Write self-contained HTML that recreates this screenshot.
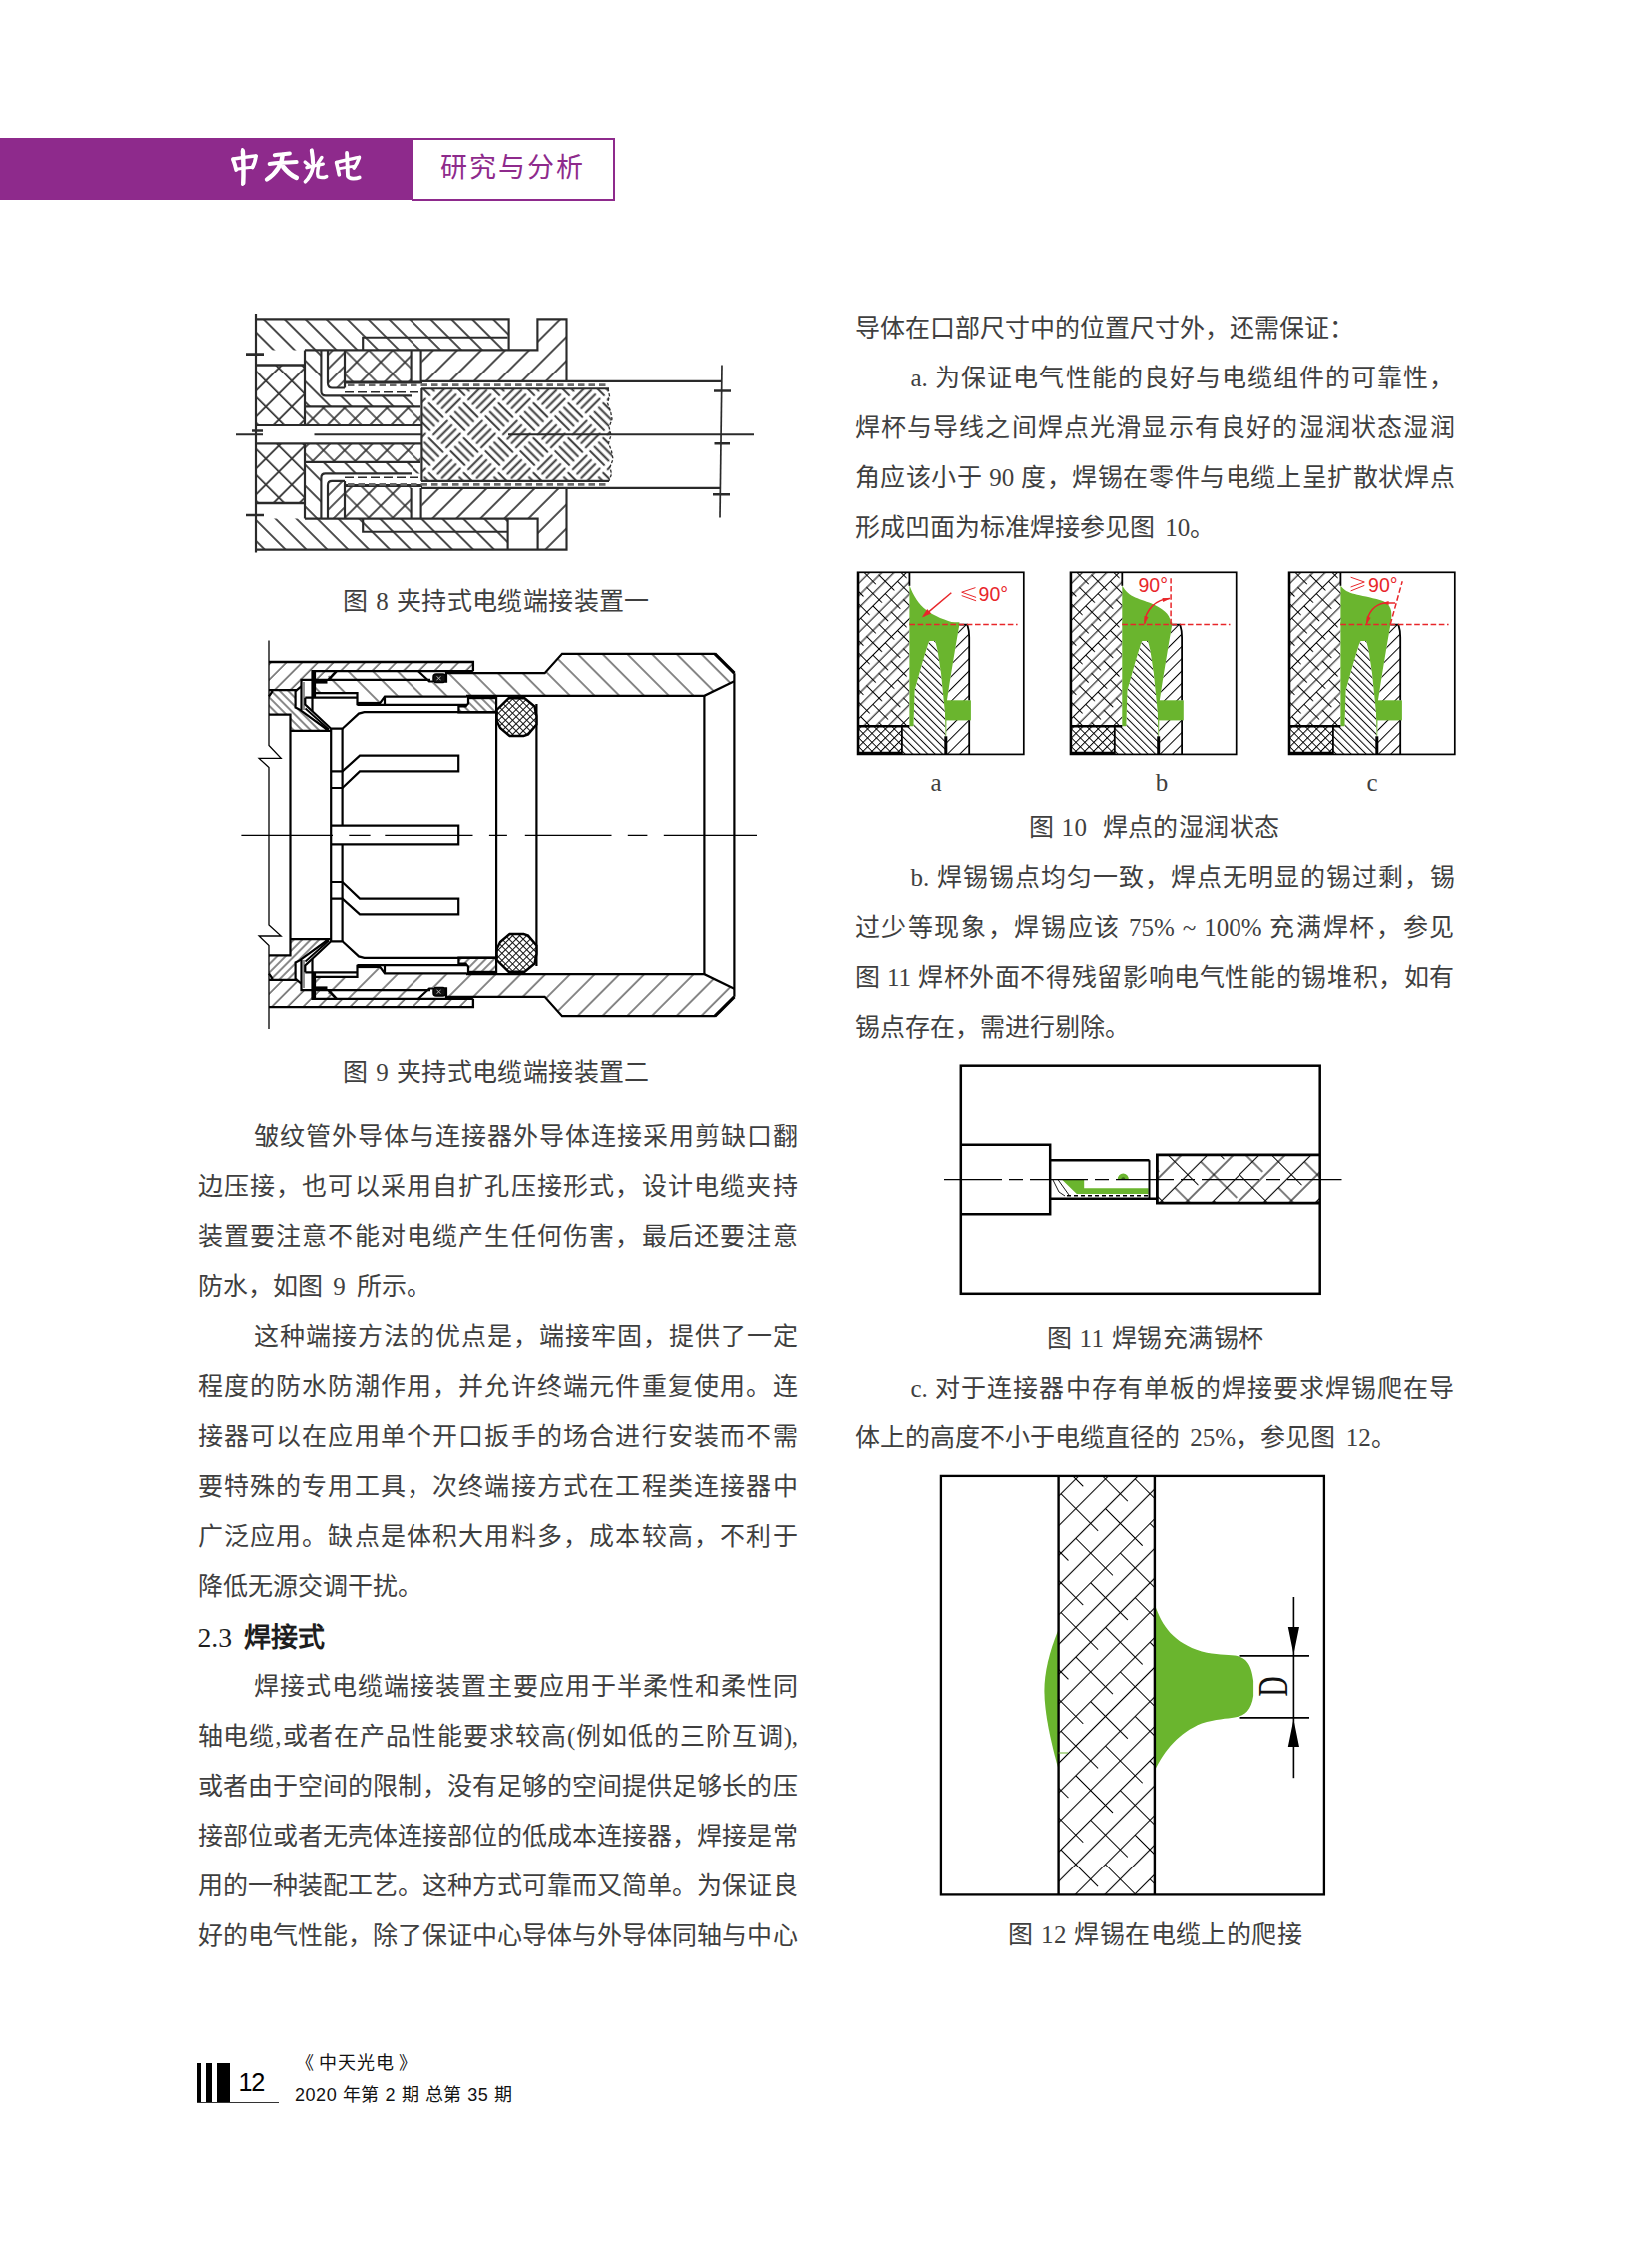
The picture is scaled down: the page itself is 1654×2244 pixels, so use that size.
<!DOCTYPE html>
<html lang="zh-CN"><head><meta charset="utf-8"><title>中天光电 研究与分析</title>
<style>
html,body{margin:0;padding:0;background:#fff}
#pg{position:relative;width:1654px;height:2244px;overflow:hidden;background:#fff;font-family:"Liberation Serif",serif;color:#1c1c1c}
.l{color:#3f3f3f}
.l.h{color:#1e1e1e}
.l{position:absolute;white-space:nowrap;font-size:25px;line-height:50px;height:50px;font-family:"Liberation Serif",serif}
.j{text-align:justify;text-align-last:justify}
.k{letter-spacing:-0.4px}
.c{text-align:center;word-spacing:1px;letter-spacing:0.4px}
.n{word-spacing:4.5px}
.h{font-weight:bold;font-size:27px;word-spacing:5.5px}
.hn{font-weight:normal;font-size:27.7px}
svg{position:absolute;left:0;top:0;overflow:visible}
.sans{font-family:"Liberation Sans",sans-serif}

</style></head>
<body>
<div id="pg">
<div style="position:absolute;left:0;top:137.5px;width:414px;height:62.5px;background:#8e2a8c"></div>
<div style="position:absolute;left:412px;top:137.5px;width:200px;height:59px;border:2px solid #8e2a8c;background:#fff"></div>
<div class="sans" style="position:absolute;left:441px;top:149.3px;font-size:27px;line-height:38px;letter-spacing:1.9px;color:#8e2a8c;white-space:nowrap">研究与分析</div>
<svg width="1654" height="2244" viewBox="0 0 1654 2244" style="z-index:2">
<g transform="translate(220,138) scale(0.09685)" fill="none" stroke="#fff" stroke-linecap="round" stroke-linejoin="round">
<!-- 中 -->
<path d="M236,135C242,230 246,350 240,465" stroke-width="46"/>
<path d="M236,130L232,118M240,465L232,480" stroke-width="30"/>
<path d="M135,222C150,260 160,295 168,330" stroke-width="40"/>
<path d="M135,218C220,205 300,190 372,186" stroke-width="38"/>
<path d="M372,188C365,235 350,280 335,305" stroke-width="38"/>
<path d="M172,322C230,312 290,305 338,302" stroke-width="32"/>
<!-- 天 -->
<path d="M565,178C620,170 670,165 722,160" stroke-width="40"/>
<path d="M512,268C600,258 700,252 792,248" stroke-width="40"/>
<path d="M648,175C640,260 610,345 485,428" stroke-width="44"/>
<path d="M655,300C690,345 730,385 790,410" stroke-width="50"/>
<!-- 光 -->
<path d="M948,128C955,170 960,215 962,260" stroke-width="42"/>
<path d="M880,250L922,284" stroke-width="36"/>
<path d="M1052,202L1012,262" stroke-width="36"/>
<path d="M898,306C950,292 1010,280 1066,270" stroke-width="36"/>
<path d="M962,300C950,360 925,410 882,452" stroke-width="38"/>
<path d="M1018,292C1008,340 1000,385 1020,402C1045,412 1075,410 1102,398" stroke-width="36"/>
<!-- 电 -->
<path d="M1204,255C1215,300 1225,340 1232,380" stroke-width="38"/>
<path d="M1204,252C1290,232 1370,212 1440,200" stroke-width="36"/>
<path d="M1440,202C1425,245 1405,285 1385,312" stroke-width="36"/>
<path d="M1238,316C1295,305 1350,296 1400,290" stroke-width="30"/>
<path d="M1312,155C1318,240 1318,330 1322,395C1340,425 1400,425 1442,408" stroke-width="40"/>
</g>
</svg>

<svg width="1654" height="2244" viewBox="0 0 1654 2244" style="z-index:1">
<defs>
<filter id="bl8" x="-2%" y="-2%" width="104%" height="104%"><feGaussianBlur stdDeviation="0.55"/></filter>
<pattern id="h8a" patternUnits="userSpaceOnUse" width="14.8" height="10" patternTransform="translate(262,319) rotate(-45)"><path d="M1,-1V11" stroke="#333" stroke-width="1.75"/></pattern>
<pattern id="h8b" patternUnits="userSpaceOnUse" width="17" height="10" patternTransform="translate(425,382) rotate(45)"><path d="M1,-1V11" stroke="#333" stroke-width="1.75"/></pattern>
<pattern id="h8c" patternUnits="userSpaceOnUse" width="10" height="10" patternTransform="translate(330,352) rotate(45)"><path d="M1,-1V11" stroke="#333" stroke-width="1.65"/></pattern>
<pattern id="x8a" patternUnits="userSpaceOnUse" width="18.4" height="18.4" patternTransform="translate(266,380) rotate(45)"><path d="M1,-1V20M-1,1H20" stroke="#333" stroke-width="1.75" fill="none"/></pattern>
<pattern id="x8b" patternUnits="userSpaceOnUse" width="15" height="15" patternTransform="translate(313,418) rotate(45)"><path d="M1,-1V16M-1,1H16" stroke="#333" stroke-width="1.65" fill="none"/></pattern>
<pattern id="x8c" patternUnits="userSpaceOnUse" width="17" height="17" patternTransform="translate(357,361) rotate(45)"><path d="M1,-1V18M-1,1H18" stroke="#333" stroke-width="1.65" fill="none"/></pattern>
<pattern id="w8" patternUnits="userSpaceOnUse" width="49.4" height="49.4" patternTransform="translate(430,400) rotate(-45)">
<path d="M2.5,3.1H22.2M27.8,2.5V22.2M3.1,27.2V46.9M27.2,27.8H46.9M2.5,9.3H22.2M34.0,2.5V22.2M9.3,27.2V46.9M27.2,34.0H46.9M2.5,15.4H22.2M40.1,2.5V22.2M15.4,27.2V46.9M27.2,40.1H46.9M2.5,21.6H22.2M46.3,2.5V22.2M21.6,27.2V46.9M27.2,46.3H46.9" stroke="#383838" stroke-width="2" fill="none" stroke-linecap="round"/></pattern>
</defs>
<g filter="url(#bl8)" fill="none" stroke="#2c2c2c" stroke-width="2.15">
<!-- hatched fills -->
<path d="M256,319.3H509.6V350.4H256Z" fill="url(#h8a)" stroke="none"/>
<path d="M256,519.6H508.6V550.6H256Z" fill="url(#h8a)" stroke="none"/>
<path d="M538.4,319.3H567.5V381.9H422.4V350.4H538.4Z" fill="url(#h8b)" stroke="none"/>
<path d="M422.4,489.2H567.5V550.6H538.6V519.6H422.4Z" fill="url(#h8b)" stroke="none"/>
<path d="M305,350.4H321.4V396.4H421V407.3H305Z" fill="url(#h8a)" stroke="none"/>
<path d="M305,519.6H321.4V474.4H421V463.3H305Z" fill="url(#h8a)" stroke="none"/>
<rect x="328" y="350.4" width="17" height="38" fill="url(#h8c)" stroke="none"/>
<rect x="328" y="482" width="17" height="37.6" fill="url(#h8c)" stroke="none"/>
<rect x="256" y="365.5" width="49" height="60.5" fill="url(#x8a)" stroke="none"/>
<rect x="256" y="444.4" width="49" height="60.5" fill="url(#x8a)" stroke="none"/>
<rect x="305" y="407.3" width="116.3" height="18.7" fill="url(#x8b)" stroke="none"/>
<rect x="305" y="444.4" width="116.3" height="18.5" fill="url(#x8b)" stroke="none"/>
<rect x="345" y="350.4" width="66.6" height="32" fill="url(#x8c)" stroke="none"/>
<rect x="345" y="487" width="66.6" height="32.6" fill="url(#x8c)" stroke="none"/>
<path id="w8p" d="M422.4,389.2H609L610.5,397 608.5,404 611.5,412 613,420 610,428 612,436 609.5,444 612.5,452 614,460 611,468 612.5,475 610,481.8H422.4Z" fill="url(#w8)" stroke="none"/>
<path d="M609,389.2L610.5,397 608.5,404 611.5,412 613,420 610,428 612,436 609.5,444 612.5,452 614,460 611,468 612.5,475 610,481.8" stroke-width="1.3" stroke-dasharray="3 2"/>
<!-- outline -->
<path d="M256,314V553.5"/>
<path d="M256,319.3H509.6V350.4"/>
<path d="M305,350.4H538.4V319.3H567.5V381.9M567.5,489V550.6H256"/>
<path d="M363.2,350.4V337.7H508.6"/>
<path d="M305,519.6H538.6V550.6M508.6,519.6V550.6M363.2,519.6V532.7H508.6"/>
<path d="M305,350.4V426M305,444.4V519.6"/>
<path d="M256,365.5H305M256,504H305" stroke-width="2.4"/>
<path d="M256,426H422.4M256,444.4H422.4"/>
<path d="M422.4,389V482"/>
<path d="M305,407.3H421M305,462.9H421"/>
<path d="M321.4,350.4V392q0,4.4 4.4,4.4H412M328,350.4V384q0,4.5 4.5,4.5H345"/>
<path d="M321.4,519.6V478.5q0,-4.2 4.2,-4.2H412M328,519.6V486q0,-4.2 4.2,-4.2H345"/>
<path d="M345,350.4V388.5M345,519.6V482"/>
<path d="M411.6,350.4V382M421.6,350.4V382M411.6,519.6V489M421.6,519.6V489"/>
<path d="M345,383H423" stroke-width="2.8"/>
<path d="M345,486.5H423" stroke-width="2.8"/>
<!-- cable outer conductor + leaders -->
<path d="M422,381.9H723M422,389.2H610M422,481.8H610M422,488.8H721.5"/>
<path d="M348,385.6H610M348,485.4H610" stroke-width="2.6" stroke-dasharray="6.5 4" stroke="#6a6a6a"/>
<path d="M345,392.8H420M345,478.2H420" stroke-width="1.6" stroke-dasharray="9 4"/>
<!-- centre line -->
<path d="M236,435.2H263M314.5,435.2H422M509,435.2H755"/>
<!-- dimension line + ticks -->
<path d="M723,365.5L721,518.5" stroke-width="1.7"/>
<path d="M715,391.5H732M715.5,444.3H731M714,495.2H731M246,354.6H264M246,516H264M252,431.5H263" stroke-width="2.6"/>
</g>
</svg>

<svg width="1654" height="2244" viewBox="0 0 1654 2244" style="z-index:1">
<defs>
<pattern id="h9a" patternUnits="userSpaceOnUse" width="11.1" height="10" patternTransform="translate(270,663) rotate(45)"><path d="M1,-1V11" stroke="#111" stroke-width="1"/></pattern>
<pattern id="h9c" patternUnits="userSpaceOnUse" width="17.5" height="10" patternTransform="translate(322,672) rotate(-45)"><path d="M1,-1V11" stroke="#111" stroke-width="1"/></pattern>
<pattern id="h9d" patternUnits="userSpaceOnUse" width="6" height="10" patternTransform="translate(270,692) rotate(-45)"><path d="M1,-1V11" stroke="#111" stroke-width="1"/></pattern>
<pattern id="x9o" patternUnits="userSpaceOnUse" width="5" height="5" patternTransform="translate(517,717) rotate(45)"><path d="M0.5,-1V6M-1,0.5H6" stroke="#111" stroke-width="1" fill="none"/></pattern>
<g id="f9h" fill="none" stroke="#000" stroke-width="2.2" stroke-linejoin="miter">
 <!-- hatch fills (flip with mirror) -->
 <path d="M333,672.2H419L430,680.9H325Z" fill="url(#h9c)" stroke="none"/>
 <path d="M315.5,680.9H431V683.5H447V674.2H545.6L563,654.8H716L735.4,674.2V682.3L705.4,696.8H385L379.5,704.6H357.5V694.1H315.5Z" fill="url(#h9c)" stroke="none"/>
 <path d="M269,691.1H296.9L295.6,692.4V708.5L299.8,710.6L327.8,731H290.5V715.7H269Z" fill="url(#h9d)" stroke="none"/>
 <path d="M469,697.8H497.1V713.3H459.4V707.5H466.2L469,704.6Z" fill="url(#h9d)" stroke="none"/>
 <!-- sleeve B -->
 <path d="M312.5,712V672.2H473.9" />
 <path d="M336.7,672.2L328.6,680.9" stroke-width="2.6"/>
 <path d="M314.5,682.8H327.5" stroke-width="3.6"/>
 <path d="M314.3,673V698" stroke-width="3.6"/>
 <path d="M419,672.2L430,682.5H434" />
 <rect x="434" y="675" width="12.5" height="8.6" rx="3" fill="#111" stroke="#000" stroke-width="1.5"/>
 <path d="M437.5,677.5l2,1.5l2,-1.5m-4,3.5l2,-1.5l2,1.5" stroke="#ddd" stroke-width="0.8"/>
 <path d="M447,683.8V674.2H545.6L563,654.8H716L735.4,674.2"/>
 <path d="M716,654.8L735.4,674.2" stroke-width="3.2"/>
 <!-- body C top/bottom -->
 <path d="M301.5,711V680.9H431"/>
 <path d="M304,683V711" stroke="#777" stroke-width="1.6"/>
 <path d="M315.5,694.1H357.5V705.2H379.5L385,697.7H467.6"/>
 <path d="M357.5,704.6H380" stroke-width="3.4"/>
 <path d="M385,698.2V705.9"/>
 <path d="M357.5,705.9H466.2V707.5H459.4V713.3H497.1"/>
 <path d="M466.2,707.5L469,704.6V697.8"/>
 <path d="M467.6,697.7H497.1" />
 <path d="M467,696.8H705.4L735.4,682.3" />
 <path d="M469,698.6H497" stroke-width="3.2"/>
 <!-- cone -->
 <path d="M305.3,698.7H357.5M305.3,698.7V705.5L331.2,729.7H342.6L359,714.6L364.5,713.1H497.1"/>
 <path d="M305.5,709.5L329,730.5" stroke-width="1.8"/>
 <!-- back nut D outline -->
 <path d="M269,691.1H296.9L301.5,687.3M296.9,691.1L295.6,692.4V708.5L299.8,710.6L328.5,731.5M269,697.5L272.7,692.2M269,715.7H290.5V836M290.5,731.8H331.2"/>
 <!-- collet neck + fingers -->
 <path d="M331.2,729.7V836M342.6,729.7V827"/>
 <path d="M331.2,772.4H342.6L360,756.7H459.2V772.4H360L342.6,789H331.2"/>
 <path d="M331.2,826.7H459.2V836"/>
 <!-- o-ring -->
 <path d="M497.1,696.8V836M537.4,705V836M705.4,696.8V836M735.4,674.2V836"/>
 <path d="M509.5,699.3H525.5L535.5,707.5L537.4,717V725.5L529,735.5L524.5,737H510.5L501,729L497.6,722V711Z" fill="#fff" stroke="none"/>
 <path d="M509.5,699.3H525.5L535.5,707.5L537.4,717V725.5L529,735.5L524.5,737H510.5L501,729L497.6,722V711Z" fill="url(#x9o)" stroke-width="2.4"/>
</g>
</defs>
<!-- outer shell hatch, same direction both halves -->
<path d="M269,663H473.9V672.2H336.7L328.6,680.9H301.5V687.3L296.9,691.1H269Z" fill="url(#h9a)"/>
<path d="M269,1008.2H473.9V999.8H336.7L328.6,991.1H301.5V984.7L296.9,980.9H269Z" fill="url(#h9a)"/>
<use href="#f9h"/>
<use href="#f9h" transform="matrix(1,0,0,-1,0,1672)"/>
<g fill="none" stroke="#000">
<path d="M269,663H473.9V672.2M269,1008.2H473.9V999.8" stroke-width="2.3"/>
<path d="M269,641.5V746.5L281.2,759.4H259.1L269,768.5V926L281.2,937H259.1L269,946.5V1030" stroke-width="1.3"/>
<path d="M241.4,836.4H758" stroke-width="1.2" stroke-dasharray="91.6 16.3 21.3 14.7 88.2 16.4 18 17.9 86.7 16.3 19.6 16.4 94"/>
</g>
</svg>

<svg width="1654" height="2244" viewBox="0 0 1654 2244" style="z-index:1">
<defs>
<pattern id="x10a" patternUnits="userSpaceOnUse" width="34.8" height="17.4" patternTransform="translate(3,-4) rotate(45)">
<path d="M0.5,0V17.4M9.2,0V17.4M17.9,0V17.4M26.6,0V17.4" stroke="#000" stroke-width="1" fill="none"/>
<path d="M0,0.5H22M17.4,9.2H34.8M0,9.2H4.6" stroke="#000" stroke-width="1" fill="none"/>
</pattern>
<pattern id="x10b" patternUnits="userSpaceOnUse" width="6.3" height="6.3" patternTransform="translate(1,156) rotate(45)"><path d="M0.5,-1V8M-1,0.5H8" stroke="#000" stroke-width="1" fill="none"/></pattern>
<pattern id="h10c" patternUnits="userSpaceOnUse" width="5.3" height="10" patternTransform="translate(46,181) rotate(-45)"><path d="M0.5,-1V11" stroke="#000" stroke-width="1"/></pattern>
<pattern id="h10w" patternUnits="userSpaceOnUse" width="8.7" height="10" patternTransform="translate(90,181) rotate(45)"><path d="M0.5,-1V11" stroke="#000" stroke-width="1"/></pattern>
<g id="p10" fill="none" stroke="#000" stroke-width="1.6">
 <rect x="0" y="0" width="51.8" height="153.6" fill="url(#x10a)" stroke="none"/>
 <rect x="0" y="154.5" width="44.3" height="27" fill="url(#x10b)" stroke="none"/>
 <path d="M44.3,182V154.5H55.8L57,118L65,89.5L70.7,71L71.9,68.8H77.6L79.9,78L83.4,101L85.7,124L87.4,141L88,164.2V182Z" fill="url(#h10c)" stroke="none"/>
 <path d="M101.8,52.4H109.8Q111.6,58 111.6,65.3V182H88.6V164.2L89.1,129.7L92.6,106.7L98.3,72.2Z" fill="url(#h10w)" stroke="none"/>
 <!-- solder body below rim -->
 <path d="M51.8,50V154H55.8L57,118L65,89.5L70.7,71L71.9,68.8H77.6L79.9,78L83.4,101L85.7,124L87.4,141L88,165.4L88.6,164.2L89.1,129.7L92.6,106.7L98.3,72.2L101.8,52.1V50Z" fill="#6ab52e" stroke="none"/>
 <rect x="88.3" y="128" width="25" height="20.1" fill="#6ab52e" stroke="none"/>
 <rect x="0" y="0" width="166.2" height="182.1" stroke-width="1.7"/>
 <path d="M51.8,0V13.5" stroke-width="1.8"/>
 <path d="M0,154H51.8" stroke-width="2.6"/>
 <path d="M0,180.9H44.3" stroke-width="3"/>
 <path d="M44.3,154V182" stroke-width="1.8"/>
 <path d="M0.6,0V182" stroke-width="2.2"/>
 <path d="M101.8,52.4H109.8Q111.6,58 111.6,65.3V128M111.6,148V182" stroke-width="1.8"/>
 <path d="M88.2,164V182" stroke-width="3"/>
</g>
<path id="ah10" d="M0,0L7.5,-1.9L7.5,1.9Z"/>
</defs>
<!-- panel a -->
<g transform="translate(858.6,573.3)">
 <path d="M51.8,13C60,35 72,44 101.8,52.1V53H51.8Z" fill="#6ab52e"/>
 <use href="#p10"/>
 <g stroke="#e8262a" fill="none" stroke-width="1.3">
  <path d="M51.8,52.1H160" stroke-dasharray="5.6 2.6" stroke-width="1.5"/>
  <path d="M93.7,20.5L66,43.8" stroke-width="1.5"/>
  <path d="M64.2,45.3L73.5,41.3L69.6,36.7Z" fill="#e8262a" stroke="none"/>
  <path d="M117.9,15.3L104.1,19.9L118.5,25.1M104.1,23.3L118.5,28.5" stroke-width="1"/>
 </g>
 <text x="121" y="28.5" font-family="Liberation Sans, sans-serif" font-size="19.5" fill="#e8262a">90°</text>
</g>
<!-- panel b -->
<g transform="translate(1071.5,573.3)">
 <path d="M51.8,13C58,26 70,26 84,32.5C96,38.5 100.6,44 100.6,52.1L101.8,53H51.8Z" fill="#6ab52e"/>
 <use href="#p10"/>
 <g stroke="#e8262a" fill="none" stroke-width="1.5">
  <path d="M51.8,52.1H160" stroke-dasharray="5.6 2.6"/>
  <path d="M100.6,52.1V6" stroke-dasharray="5.6 2.6"/>
  <path d="M99.5,26.2A26,26 0 0 0 74.3,51.5"/>
  <path d="M100,26.1L92,25.6L92.7,29.8Z M74.3,52L73.9,43.8L78,44.8Z" fill="#e8262a" stroke="none"/>
 </g>
 <text x="68" y="19.3" font-family="Liberation Sans, sans-serif" font-size="19.5" fill="#e8262a">90°</text>
</g>
<!-- panel c -->
<g transform="translate(1290.6,573.3)">
 <path d="M51.8,13C58,23 70,21.5 92,28C102,31 104.5,38 101.8,52.1V53H51.8Z" fill="#6ab52e"/>
 <use href="#p10"/>
 <g stroke="#e8262a" fill="none" stroke-width="1.5">
  <path d="M51.8,52.1H160" stroke-dasharray="5.6 2.6"/>
  <path d="M101.6,52.1L113.6,9" stroke-dasharray="5.6 2.6"/>
  <path d="M106.5,30.8H96C86,32 79,40 78,51.5"/>
  <path d="M93.5,30.6L100,28.6L100,32.8Z M78,52L78.2,44L82,45.4Z" fill="#e8262a" stroke="none"/>
  <path d="M62,4.9L75.7,9.7L62,14.7M75.7,13.1L62,18.6" stroke-width="1"/>
 </g>
 <text x="79.5" y="19.3" font-family="Liberation Sans, sans-serif" font-size="19.5" fill="#e8262a">90°</text>
</g>
</svg>

<svg width="1654" height="2244" viewBox="0 0 1654 2244" style="z-index:1">
<defs>
<pattern id="x11" patternUnits="userSpaceOnUse" width="73.6" height="36.8" patternTransform="translate(1163,1150) rotate(45)">
<path d="M0.5,0V36.8M18.9,0V36.8M37.3,0V36.8M55.7,0V36.8" stroke="#000" stroke-width="1.1" fill="none"/>
<path d="M0,0.5H52M36.8,18.9H73.6M0,18.9H15" stroke="#000" stroke-width="1.1" fill="none"/>
</pattern>
</defs>
<g fill="none" stroke="#000" stroke-width="2.5">
<rect x="1158.4" y="1156.8" width="163.3" height="48.4" fill="url(#x11)" stroke="none"/>
<path d="M1062.9,1181.6H1085.2V1190.3H1149.7V1196H1077.8Z M1118.7,1181.6A5.6,6 0 0 1 1129.9,1181.6Z" fill="#6ab52e" stroke="none"/>
<path d="M1122.2,1181.6A2.1,2.4 0 0 1 1126.4,1181.6Z" fill="#3a6a1a" stroke="none"/>
<rect x="961.8" y="1066.7" width="359.9" height="229.1"/>
<path d="M961.8,1146.8H1051.2V1216.3H961.8"/>
<path d="M1051.2,1162.2H1150.5M1051.2,1200.7H1158.4"/>
<path d="M1150.5,1162.2V1200.7" stroke-width="2"/>
<path d="M1321.7,1156.8H1158.4V1205.2H1321.7" stroke-width="2.8"/>
<path d="M1068,1197.8H1149" stroke-width="1.4" stroke-dasharray="4 3"/>
<path d="M1054,1182L1060,1194L1066,1198M1059,1181.6L1070,1197" stroke-width="0.9"/>
<path d="M945,1181.6H1343.5" stroke-width="1.1" stroke-dasharray="58 7 14 7"/>
</g>
</svg>

<svg width="1654" height="2244" viewBox="0 0 1654 2244" style="z-index:1">
<defs>
<pattern id="x12" patternUnits="userSpaceOnUse" width="84" height="42" patternTransform="translate(1062,1495) rotate(45)">
<path d="M0.5,0V42M21.5,0V42M42.5,0V42M63.5,0V42" stroke="#000" stroke-width="1.1" fill="none"/>
<path d="M0,0.5H53M42,21.5H84M0,21.5H11" stroke="#000" stroke-width="1.1" fill="none"/>
</pattern>
</defs>
<g fill="none" stroke="#000" stroke-width="2.3">
<rect x="1059.6" y="1478" width="96.3" height="419.4" fill="url(#x12)" stroke="none"/>
<path d="M1155.9,1606.5C1163,1628 1175,1645 1203,1653.5C1217,1657 1228,1656.5 1236,1657.5C1246,1659 1253,1664 1255.1,1683V1698C1253,1712 1247,1718 1236,1719.5C1228,1721 1217,1721 1203,1725.500C1180,1735 1166,1752 1155.900,1772.800Z" fill="#6ab52e" stroke="none"/>
<path d="M1059.6,1631.3C1050,1655 1045.4,1675 1045.4,1693C1045.4,1715 1052,1745 1059.6,1771.5Z" fill="#6ab52e" stroke="none"/>
<rect x="941.9" y="1477.9" width="384" height="419.5"/>
<path d="M1059.6,1478V1897.4M1155.9,1478V1897.4" stroke-width="2.4"/>
<path d="M1241.5,1657.9H1311M1241.5,1719.9H1311" stroke-width="1.8"/>
<path d="M1295.4,1599V1780.2" stroke-width="1.6"/>
<path d="M1295.4,1656.5L1289.800,1629H1301Z M1295.4,1721.300L1289.800,1749H1301Z" fill="#000" stroke="none"/>
<path d="M1059.6,1755H1069" stroke="#6ab52e" stroke-width="1"/>
</g>
<text transform="translate(1288.7,1698.6) rotate(-90) scale(0.66,1)" font-family="Liberation Serif, serif" font-size="42" fill="#111">D</text>
</svg>

<div class="l j" style="left:253.5px;top:1113.8px;width:545.0px">皱纹管外导体与连接器外导体连接采用剪缺口翻</div>
<div class="l j" style="left:197.5px;top:1163.8px;width:601px">边压接，也可以采用自扩孔压接形式，设计电缆夹持</div>
<div class="l j" style="left:197.5px;top:1213.8px;width:601px">装置要注意不能对电缆产生任何伤害，最后还要注意</div>
<div class="l n" style="left:197.5px;top:1263.8px">防水，如图 9 所示。</div>
<div class="l j" style="left:253.5px;top:1313.8px;width:545.0px">这种端接方法的优点是，端接牢固，提供了一定</div>
<div class="l j" style="left:197.5px;top:1363.8px;width:601px">程度的防水防潮作用，并允许终端元件重复使用。连</div>
<div class="l j" style="left:197.5px;top:1413.8px;width:601px">接器可以在应用单个开口扳手的场合进行安装而不需</div>
<div class="l j" style="left:197.5px;top:1463.8px;width:601px">要特殊的专用工具，次终端接方式在工程类连接器中</div>
<div class="l j" style="left:197.5px;top:1513.8px;width:601px">广泛应用。缺点是体积大用料多，成本较高，不利于</div>
<div class="l n" style="left:197.5px;top:1563.8px">降低无源交调干扰。</div>
<div class="l j" style="left:253.5px;top:1663.8px;width:545.0px">焊接式电缆端接装置主要应用于半柔性和柔性同</div>
<div class="l j k" style="left:197.5px;top:1713.8px;width:601px">轴电缆,或者在产品性能要求较高(例如低的三阶互调),</div>
<div class="l j" style="left:197.5px;top:1763.8px;width:601px">或者由于空间的限制，没有足够的空间提供足够长的压</div>
<div class="l j" style="left:197.5px;top:1813.8px;width:601px">接部位或者无壳体连接部位的低成本连接器，焊接是常</div>
<div class="l j" style="left:197.5px;top:1863.8px;width:601px">用的一种装配工艺。这种方式可靠而又简单。为保证良</div>
<div class="l j" style="left:197.5px;top:1913.8px;width:601px">好的电气性能，除了保证中心导体与外导体同轴与中心</div>
<div class="l n" style="left:855.5px;top:303.8px">导体在口部尺寸中的位置尺寸外，还需保证：</div>
<div class="l j" style="left:911.5px;top:353.8px;width:545.0px">a. 为保证电气性能的良好与电缆组件的可靠性，</div>
<div class="l j" style="left:855.5px;top:403.8px;width:601px">焊杯与导线之间焊点光滑显示有良好的湿润状态湿润</div>
<div class="l j" style="left:855.5px;top:453.8px;width:601px">角应该小于 90 度，焊锡在零件与电缆上呈扩散状焊点</div>
<div class="l n" style="left:855.5px;top:503.8px">形成凹面为标准焊接参见图 10。</div>
<div class="l j" style="left:911.5px;top:853.8px;width:545.0px">b. 焊锡锡点均匀一致，焊点无明显的锡过剩，锡</div>
<div class="l j" style="left:855.5px;top:903.8px;width:601px">过少等现象，焊锡应该 75% ~ 100% 充满焊杯，参见</div>
<div class="l j" style="left:855.5px;top:953.8px;width:601px">图 11 焊杯外面不得残留影响电气性能的锡堆积，如有</div>
<div class="l n" style="left:855.5px;top:1003.8px">锡点存在，需进行剔除。</div>
<div class="l j" style="left:911.5px;top:1365.8px;width:545.0px">c. 对于连接器中存有单板的焊接要求焊锡爬在导</div>
<div class="l n" style="left:855.5px;top:1414.8px">体上的高度不小于电缆直径的 25%，参见图 12。</div>
<div class="l c" style="left:197px;top:577.8px;width:600px">图 8 夹持式电缆端接装置一</div>
<div class="l c" style="left:197px;top:1048.8px;width:600px">图 9 夹持式电缆端接装置二</div>
<div class="l c" style="left:855.5px;top:803.8px;width:600px">图 10&nbsp; 焊点的湿润状态</div>
<div class="l c" style="left:856.5px;top:1316.0px;width:600px">图 11 焊锡充满锡杯</div>
<div class="l c" style="left:856.5px;top:1913.1px;width:600px">图 12 焊锡在电缆上的爬接</div>
<div class="l c" style="left:637.2px;top:758.8px;width:600px">a</div>
<div class="l c" style="left:863.2px;top:758.8px;width:600px">b</div>
<div class="l c" style="left:1074.2px;top:758.8px;width:600px">c</div>
<div class="l h" style="left:197.5px;top:1614.8px"><span class="hn">2.3</span> 焊接式</div>
<div style="position:absolute;left:197px;top:2066px;width:3.5px;height:40px;background:#000"></div>
<div style="position:absolute;left:205.8px;top:2066px;width:6.7px;height:40px;background:#000"></div>
<div style="position:absolute;left:216.8px;top:2066px;width:13.2px;height:40px;background:#000"></div>
<div style="position:absolute;left:197px;top:2105.3px;width:82px;height:1.2px;background:#333"></div>
<div class="sans" style="position:absolute;left:238.5px;top:2067.7px;font-size:25.3px;line-height:34px;letter-spacing:-1.2px;color:#000;white-space:nowrap">12</div>
<div class="sans" style="position:absolute;left:295.5px;top:2053.3px;font-size:18px;line-height:26px;color:#111;white-space:nowrap"><span style="margin-right:5.4px">《</span><span style="letter-spacing:0.9px">中天光电</span><span style="margin-left:4px">》</span></div>
<div class="sans" style="position:absolute;left:295px;top:2085px;font-size:18px;line-height:26px;letter-spacing:0.55px;color:#111;white-space:nowrap">2020 年第 2 期 总第 35 期</div>

</div>
</body></html>
